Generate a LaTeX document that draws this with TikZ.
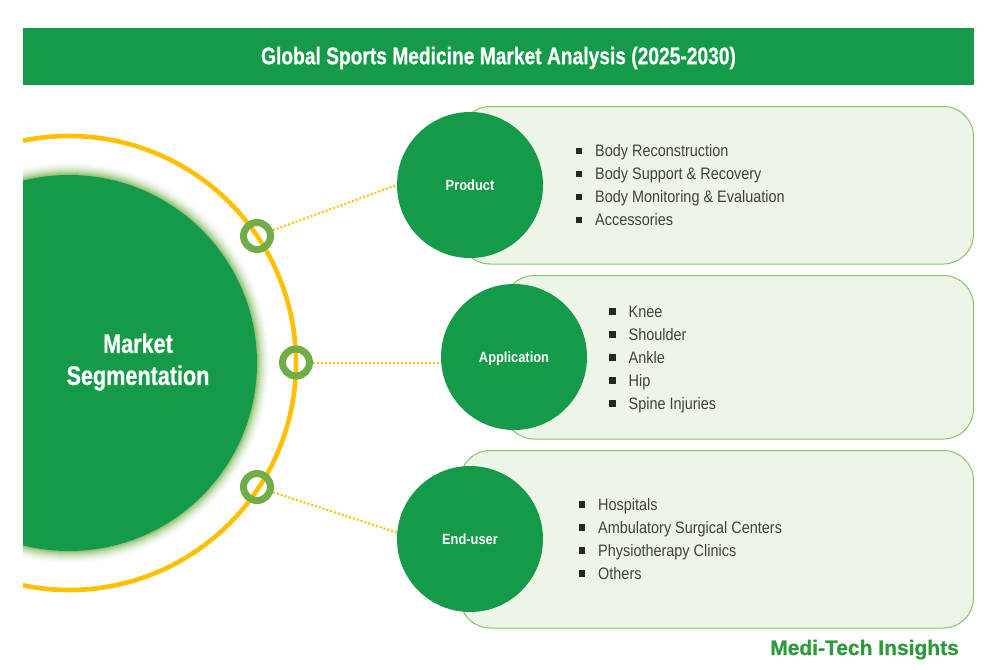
\documentclass[tikz,border=0pt]{standalone}
\usepackage{fontspec}
\setmainfont{Liberation Sans}
\newfontfamily\narrowfont[FakeStretch=0.87]{Liberation Sans}
\newfontfamily\tallfont[FakeStretch=0.8,FakeBold=0.6]{Liberation Sans}
\newfontfamily\logofont[FakeBold=0.8]{Liberation Sans}
\definecolor{mgreen}{HTML}{149A48}
\definecolor{ringgreen}{HTML}{70AD47}
\definecolor{amber}{HTML}{FFC000}
\definecolor{panelfill}{HTML}{EDF5E6}
\definecolor{panelline}{HTML}{8CC06C}
\definecolor{logogreen}{HTML}{2E9A3E}
\definecolor{txt}{HTML}{404040}
\newcommand{\blt}{\textcolor{black!85}{\rule[2.4pt]{6.5pt}{6.5pt}}\hspace{13pt}}
\tikzset{
  panel/.style={draw=panelline,fill=panelfill,line width=1pt,rounded corners=30pt},
  hub/.style={circle,fill=mgreen,minimum size=146pt,inner sep=0pt,text=white,font=\narrowfont\bfseries\fontsize{14.8}{16}\selectfont},
  dot/.style={circle,draw=ringgreen,line width=7pt,minimum size=27pt,inner sep=0pt},
  link/.style={draw=amber,line width=2pt,dash pattern=on 2pt off 2pt},
  item/.style={anchor=base west,inner sep=0pt,text=txt,font=\narrowfont\fontsize{16.6}{20}\selectfont},
}
\begin{document}
\begin{tikzpicture}[x=1pt,y=-1pt]
\useasboundingbox (0,0) rectangle (1006,669);
% header
\node[fill=mgreen,minimum width=951pt,minimum height=57pt,inner sep=0pt] (title) at (498.5,56.5) {};
\node[text=white,font=\tallfont\bfseries\fontsize{24}{26}\selectfont] (titletext) at (498.5,58) {Global Sports Medicine Market Analysis (2025-2030)};
% left graphic clipped at the margin
\begin{scope}
\clip (23,100) rectangle (400,620);
\foreach \r/\m in {200/3,199/6,198/9,197/13,196/18,195/24,194/30,193/37,192/45,191/54,190/64,189/76}{
  \fill[ringgreen!\m!white] (69,363) circle[radius=\r];
}
\fill[mgreen] (69,363) circle[radius=188];
\draw[amber,line width=4.6pt] (69,363) circle[radius=227];
\end{scope}
\node[text=white,align=center,font=\tallfont\bfseries\fontsize{27}{32}\selectfont] (seg) at (138,362) {Market\\Segmentation};
% panels
\draw[panel] (460,106.5) rectangle (973.5,264) coordinate (pa);
\draw[panel] (504,275.5) rectangle (973.5,439) coordinate (pb);
\draw[panel] (460,450.5) rectangle (973.5,628) coordinate (pc);
% hubs
\node[hub] (product) at (470,185) {Product};
\node[hub] (application) at (514,357) {};
\node[anchor=base,text=white,font=\narrowfont\bfseries\fontsize{14.8}{16}\selectfont] (applabel) at (514,362) {Application};
\node[hub] (enduser) at (470,539) {End-user};
% rings
\node[dot] (d1) at (257,236) {};
\node[dot] (d2) at (296,362.5) {};
\node[dot] (d3) at (257,487) {};
% connectors
\draw[link] (d1) -- (product.west);
\draw[link] (d2) -- (d2 -| application.west);
\draw[link] (d3) -- (enduser.175);
% lists
\node[item] (a1) at (575.5,156.5) {\blt Body Reconstruction};
\node[item] (a2) at (575.5,179.5) {\blt Body Support \& Recovery};
\node[item] (a3) at (575.5,202.5) {\blt Body Monitoring \& Evaluation};
\node[item] (a4) at (575.5,225.5) {\blt Accessories};
\node[item] (b1) at (609,317) {\blt Knee};
\node[item] (b2) at (609,340) {\blt Shoulder};
\node[item] (b3) at (609,363) {\blt Ankle};
\node[item] (b4) at (609,386) {\blt Hip};
\node[item] (b5) at (609,409) {\blt Spine Injuries};
\node[item] (c1) at (578.5,510) {\blt Hospitals};
\node[item] (c2) at (578.5,533) {\blt Ambulatory Surgical Centers};
\node[item] (c3) at (578.5,556) {\blt Physiotherapy Clinics};
\node[item] (c4) at (578.5,579) {\blt Others};
% logo
\node[anchor=base west,inner sep=0pt,text=logogreen,font=\logofont\bfseries\fontsize{21}{26}\selectfont] (logo) at (770,655) {Medi-Tech Insights};
\end{tikzpicture}
\end{document}
